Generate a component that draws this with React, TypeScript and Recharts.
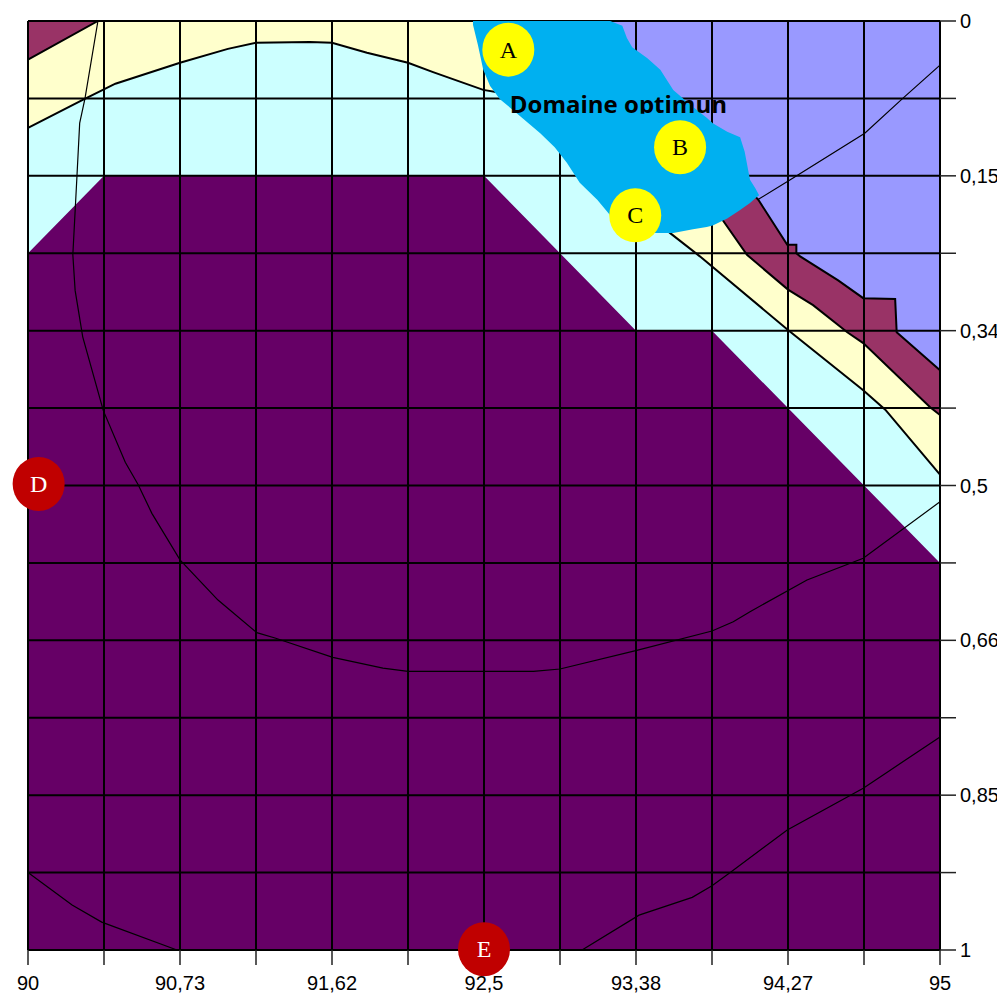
import { ComposedChart, XAxis, YAxis, Area, Line, Scatter, ReferenceLine } from 'recharts';

// grid runs 0..12 on both axes (12 cells), y counted from the top
const GRID = [0, 1, 2, 3, 4, 5, 6, 7, 8, 9, 10, 11, 12];
const X_LABELS = ['90', '', '90,73', '', '91,62', '', '92,5', '', '93,38', '', '94,27', '', '95'];
const Y_LABELS = ['0', '', '0,15', '', '0,34', '', '0,5', '', '0,66', '', '0,85', '', '1'];

// upper edge of each colour band, painted top band first
const LAVENDER_EDGE: [number, number][] = [[0, 0], [12, 0]];
const MAROON_EDGE: [number, number][] = [
  [0, 0], [7.0, 0], [7.53, 0.25], [8.05, 0.76], [8.71, 1.41], [9.24, 1.92], [9.61, 2.31],
  [9.99, 2.89], [10.11, 2.89], [10.11, 3.0], [10.16, 3.04], [10.66, 3.35], [10.99, 3.58],
  [11.41, 3.59], [11.43, 4.02], [12, 4.51],
];
const YELLOW_EDGE: [number, number][] = [
  [0, 0.5], [0.92, 0], [6.1, 0], [7.53, 0.5], [8.18, 1.15], [8.71, 1.92], [9.14, 2.57],
  [9.46, 3.02], [10.0, 3.47], [10.33, 3.67], [10.78, 4.02], [10.99, 4.16], [11.87, 4.99], [12, 5.09],
];
const CYAN_EDGE: [number, number][] = [
  [0, 1.38], [0.72, 1.02], [1.15, 0.81], [2.0, 0.54], [2.63, 0.36], [3.0, 0.28], [3.71, 0.27],
  [4.0, 0.28], [4.46, 0.41], [5.0, 0.54], [5.33, 0.66], [5.99, 0.89], [6.6, 0.99], [7.0, 1.28],
  [7.53, 1.8], [7.92, 2.25], [8.45, 2.74], [8.84, 3.04], [10.0, 3.99], [10.99, 4.77], [11.28, 5.02],
  [12, 5.86],
];
const PURPLE_EDGE: [number, number][] = [[0, 3], [1, 2], [6, 2], [8, 4], [9, 4], [12, 7]];

// "Domaine optimun" blob: x, top, bottom
const BLOB: [number, number, number][] = [
  [5.855, 0, 0.05], [5.92, 0, 0.31], [5.99, 0, 0.63], [6.08, 0, 0.84],
  [6.21, 0, 1.01], [6.43, 0, 1.19], [6.74, 0, 1.45], [6.93, 0, 1.63],
  [7.09, 0, 1.83], [7.26, 0, 2.09], [7.49, 0, 2.31], [7.66, 0, 2.51],
  [7.82, 0.06, 2.62], [7.88, 0.22, 2.66], [7.95, 0.34, 2.69], [8.15, 0.48, 2.74],
  [8.32, 0.63, 2.74], [8.49, 0.89, 2.74], [8.75, 1.11, 2.69], [8.93, 1.25, 2.66],
  [9.01, 1.32, 2.64], [9.2, 1.43, 2.55], [9.37, 1.5, 2.44], [9.43, 1.69, 2.4],
  [9.5, 2.05, 2.35], [9.57, 2.16, 2.29], [9.62, 2.25, 2.25],
];

// thin contour lines
const ARC: [number, number][] = [
  [0.92, 0], [0.75, 1.0], [0.68, 1.32], [0.645, 1.99], [0.59, 3.02], [0.62, 3.48], [0.72, 4.08],
  [0.99, 5.03], [1.28, 5.7], [1.45, 5.99], [1.63, 6.36], [2.0, 6.96], [2.5, 7.48], [3.01, 7.9],
  [3.25, 7.97], [4.01, 8.22], [4.67, 8.36], [5.0, 8.4], [6.65, 8.4], [7.0, 8.37], [8.01, 8.13],
  [9.0, 7.88], [9.28, 7.76], [9.5, 7.63], [10.25, 7.22], [10.99, 6.94], [12, 6.21],
];
const UPPER_RIGHT: [number, number][] = [[12, 0.57], [11.51, 1.0], [11.01, 1.45], [10.03, 2.05], [9.6, 2.31]];
const LOWER_LEFT: [number, number][] = [[0, 11.0], [0.58, 11.42], [0.97, 11.64], [1.96, 12]];
const LOWER_RIGHT: [number, number][] = [
  [7.29, 12], [8.04, 11.55], [8.74, 11.32], [9.0, 11.17], [9.24, 11.0], [9.99, 10.45],
  [10.99, 9.91], [11.34, 9.68], [12, 9.25],
];

const MARKERS = [
  { x: 6.32, y: 0.37, t: 'A', red: false },
  { x: 8.58, y: 1.63, t: 'B', red: false },
  { x: 7.99, y: 2.51, t: 'C', red: false },
  { x: 0.14, y: 5.98, t: 'D', red: true },
  { x: 6.0, y: 11.99, t: 'E', red: true },
];
const CAPTION = [{ x: 6.34, y: 1.19, t: 'Domaine optimun' }];

const pts = (a: [number, number][]) => a.map(([x, y]) => ({ x, y }));
const AXIS_FONT = { fontFamily: "'Liberation Sans', Arial, sans-serif", fontSize: 20, fill: '#000' };

const Marker = (p: any) => {
  const { cx, cy, payload } = p;
  return (
    <g>
      <ellipse cx={cx} cy={cy} rx={26} ry={27} fill={payload.red ? '#C00000' : '#FFFF00'} />
      <text
        x={cx}
        y={cy + 8}
        textAnchor="middle"
        fontFamily="'Liberation Serif', 'Times New Roman', serif"
        fontSize={24}
        fill={payload.red ? '#fff' : '#000'}
      >
        {payload.t}
      </text>
    </g>
  );
};

const Caption = (p: any) => {
  const { cx, cy, payload } = p;
  return (
    <g>
      <defs>
        <clipPath id="caption-clip">
          <rect x={cx - 10} y={cy - 40} width={280} height={40.5} />
        </clipPath>
      </defs>
      <text x={cx} y={cy} clipPath="url(#caption-clip)" fontFamily="'Open Sans', sans-serif" fontWeight={700} fontSize={24} fill="#000">
        {payload.t}
      </text>
    </g>
  );
};

const band = (data: [number, number][], fill: string, stroke: string) => (
  <Area
    data={pts(data)}
    dataKey="y"
    type="linear"
    baseValue={12}
    fill={fill}
    fillOpacity={1}
    stroke={stroke}
    strokeWidth={2}
    dot={false}
    activeDot={false}
    isAnimationActive={false}
  />
);

const contour = (data: [number, number][]) => (
  <Line
    data={pts(data)}
    dataKey="y"
    type="linear"
    stroke="#000"
    strokeWidth={1.2}
    dot={false}
    activeDot={false}
    isAnimationActive={false}
  />
);

export default function App() {
  const blob = BLOB.map(([x, a, b]) => ({ x, r: [a, b] }));
  return (
    <ComposedChart width={997} height={986} margin={{ top: 13, right: 0, bottom: 0, left: 20 }}>
      <XAxis
        type="number"
        dataKey="x"
        domain={[0, 12]}
        ticks={GRID}
        interval={0}
        tickFormatter={(v: number) => X_LABELS[v] ?? ''}
        tick={AXIS_FONT}
        tickSize={15}
        tickMargin={11}
        height={44}
        axisLine={{ stroke: '#000', strokeWidth: 2 }}
        tickLine={{ stroke: '#222', strokeWidth: 1.5 }}
      />
      <YAxis
        type="number"
        dataKey="y"
        orientation="right"
        reversed
        domain={[0, 12]}
        ticks={GRID}
        interval={0}
        tickFormatter={(v: number) => Y_LABELS[v] ?? ''}
        tick={AXIS_FONT}
        tickSize={16}
        tickMargin={4}
        width={65}
        axisLine={{ stroke: '#000', strokeWidth: 2 }}
        tickLine={{ stroke: '#222', strokeWidth: 1.5 }}
      />

      {band(LAVENDER_EDGE, '#9999FF', 'none')}
      {band(MAROON_EDGE, '#993366', '#000')}
      {band(YELLOW_EDGE, '#FFFFCC', '#000')}
      {band(CYAN_EDGE, '#CCFFFF', '#000')}
      {band(PURPLE_EDGE, '#660066', 'none')}

      {contour(ARC)}
      {contour(UPPER_RIGHT)}
      {contour(LOWER_LEFT)}
      {contour(LOWER_RIGHT)}

      {GRID.map((g) => (
        <ReferenceLine key={'v' + g} x={g} stroke="#000" strokeWidth={2} zIndex={450} />
      ))}
      {GRID.map((g) => (
        <ReferenceLine key={'h' + g} y={g} stroke="#000" strokeWidth={2} zIndex={450} />
      ))}

      <Area
        data={blob}
        dataKey="r"
        type="linear"
        fill="#00B0F0"
        fillOpacity={1}
        stroke="none"
        dot={false}
        activeDot={false}
        isAnimationActive={false}
        zIndex={480}
      />

      <Scatter data={MARKERS} dataKey="y" shape={Marker} isAnimationActive={false} zIndex={600} />
      <Scatter data={CAPTION} dataKey="y" shape={Caption} isAnimationActive={false} zIndex={700} />
    </ComposedChart>
  );
}
